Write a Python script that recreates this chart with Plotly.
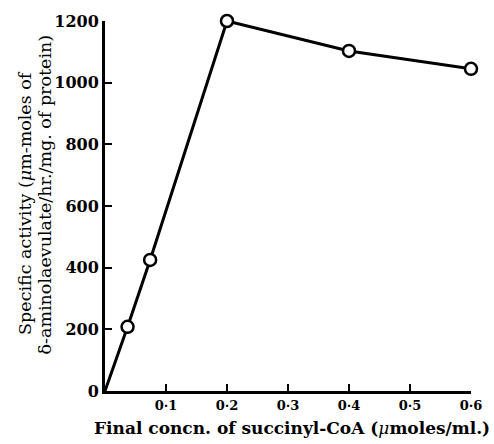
import plotly.graph_objects as go

conc = [0.0, 0.037, 0.074, 0.2, 0.4, 0.6]
activity = [0, 208, 425, 1200, 1103, 1045]
x_ticks = [0.1, 0.2, 0.3, 0.4, 0.5, 0.6]
x_ticktext = ["0·1", "0·2", "0·3", "0·4", "0·5", "0·6"]
y_ticks = [0, 200, 400, 600, 800, 1000, 1200]
y_title_lines = ["Specific activity (<i>μ</i>m-moles of",
                 "δ-aminolaevulate/hr./mg. of protein)"]
x_title = "<b>Final concn. of succinyl-CoA (</b><i>μ</i><b>moles/ml.)</b>"

FONT = "DejaVu Serif"

fig = go.Figure()
fig.add_trace(go.Scatter(
    x=conc, y=activity, mode="lines",
    line=dict(color="black", width=3), cliponaxis=False, showlegend=False))
fig.add_trace(go.Scatter(
    x=conc[1:], y=activity[1:], mode="markers",
    marker=dict(symbol="circle", size=12, color="white",
                line=dict(color="black", width=2.5)),
    cliponaxis=False, showlegend=False))

fig.update_layout(
    width=494, height=444,
    margin=dict(l=105, r=15, t=21, b=53),
    plot_bgcolor="white", paper_bgcolor="white",
    font=dict(family=FONT, size=15, color="black"),
    xaxis=dict(range=[0, 0.6], tickvals=x_ticks, ticktext=x_ticktext,
               showgrid=False, zeroline=False, showline=True,
               linecolor="black", linewidth=3, ticks="inside",
               ticklen=7, tickwidth=2, tickcolor="black",
               tickfont=dict(family=FONT, size=13, weight="bold")),
    yaxis=dict(range=[0, 1200], tickvals=y_ticks,
               showgrid=False, zeroline=False, showline=True,
               linecolor="black", linewidth=3, ticks="inside",
               ticklen=7, tickwidth=2, tickcolor="black",
               tickfont=dict(family=FONT, size=16, weight="bold")),
)

fig.add_annotation(
    text=x_title,
    xref="paper", yref="paper", x=0.512, y=-0.1, xanchor="center", yanchor="middle",
    showarrow=False, font=dict(family=FONT, size=17))
for line_text, px, py in zip(y_title_lines, [-0.219, -0.163], [0.508, 0.532]):
    fig.add_annotation(
        text=line_text,
        xref="paper", yref="paper", x=px, y=py, xanchor="center", yanchor="middle",
        textangle=-90, showarrow=False, font=dict(family=FONT, size=17.5))

fig.write_html("out.html")
